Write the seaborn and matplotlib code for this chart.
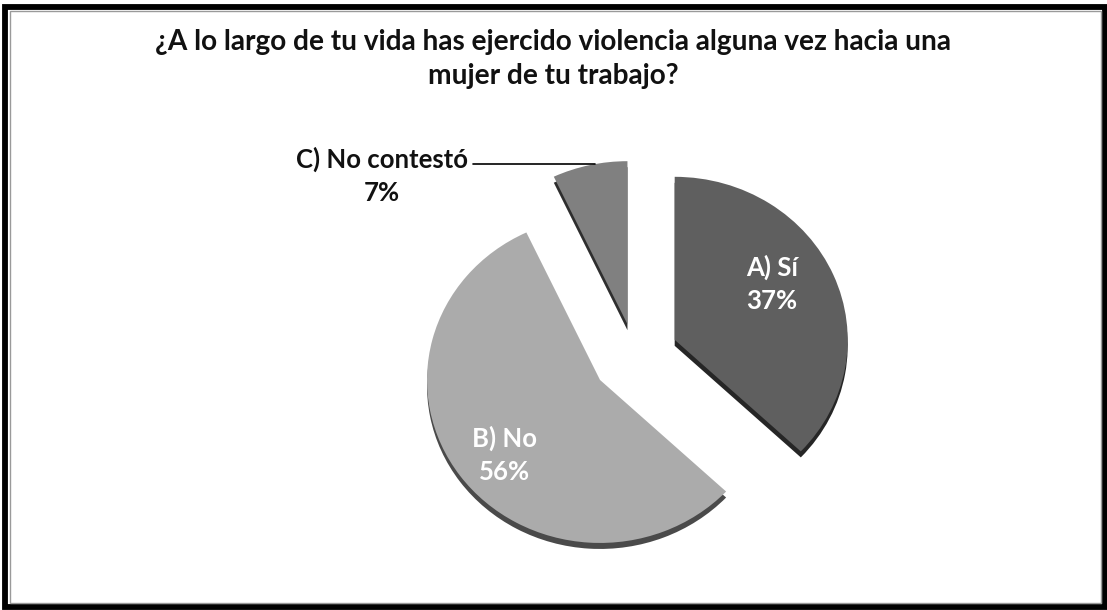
import matplotlib
matplotlib.use("Agg")
import matplotlib.pyplot as plt
from matplotlib.patches import Rectangle
from matplotlib.lines import Line2D
import seaborn as sns

# Survey answers
categories = ["A) Sí", "B) No", "C) No contestó"]
percentages = [37, 56, 7]
title_text = "¿A lo largo de tu vida has ejercido violencia alguna vez hacia una\nmujer de tu trabajo?"

sns.set_theme(style="white")
plt.rcParams["font.family"] = ["Lato", "DejaVu Sans"]

face_colors = sns.color_palette(["#5f5f5f", "#ababab", "#808080"])
side_colors = sns.color_palette(["#262626", "#4a4a4a", "#2e2e2e"])
explode = [0.25, 0.25, 0.20]

W, H = 1107, 610
fig = plt.figure(figsize=(W / 100, H / 100), dpi=100)
fig.patch.set_facecolor("white")
ax = fig.add_axes([0, 0, 1, 1])

# pie geometry in pixels: centre, horizontal and vertical radius, depth
cx, cy = 635, 356
sx, sy = 173, 163
depth = 6

# darker copy shifted downward gives the pie some thickness
ax.pie(percentages, startangle=90, counterclock=False, explode=explode,
       colors=side_colors, center=(0, -depth / sy),
       wedgeprops=dict(linewidth=0))
ax.pie(percentages, startangle=90, counterclock=False, explode=explode,
       colors=face_colors, center=(0, 0),
       wedgeprops=dict(linewidth=0))

ax.set_aspect("auto")
ax.set_xlim(-cx / sx, (W - cx) / sx)
ax.set_ylim(-(H - cy) / sy, cy / sy)
ax.axis("off")


def fpos(x, y):
    return x / W, 1 - y / H


fig.text(*fpos(553, 59), title_text, ha="center", va="center",
         fontsize=20.2, fontweight="bold", color="#111111",
         linespacing=1.42)

label_pos = [(772, 284, "white"), (505, 455, "white"), (382, 176, "#111111")]
for (x, y, c), name, pct in zip(label_pos, categories, percentages):
    fig.text(*fpos(x, y), f"{name}\n{pct}%", ha="center", va="center",
             fontsize=18.5, fontweight="bold", color=c, linespacing=1.42)

# leader line for the small slice
x0, y0 = fpos(473, 164)
x1, y1 = fpos(595, 164)
fig.add_artist(Line2D([x0, x1], [y0, y1], transform=fig.transFigure,
                      color="black", lw=1.2))

# frame around the whole chart
fig.add_artist(Rectangle(fpos(5, 607), (1105 - 5) / W, (607 - 6.5) / H,
                         transform=fig.transFigure, fill=False,
                         ec="black", lw=4.2))
fig.add_artist(Rectangle(fpos(10, 602.5), (1101 - 10) / W, (602.5 - 11) / H,
                         transform=fig.transFigure, fill=False,
                         ec="#9a9a9a", lw=1.0))

fig.savefig("out.png", dpi=100, facecolor="white")
